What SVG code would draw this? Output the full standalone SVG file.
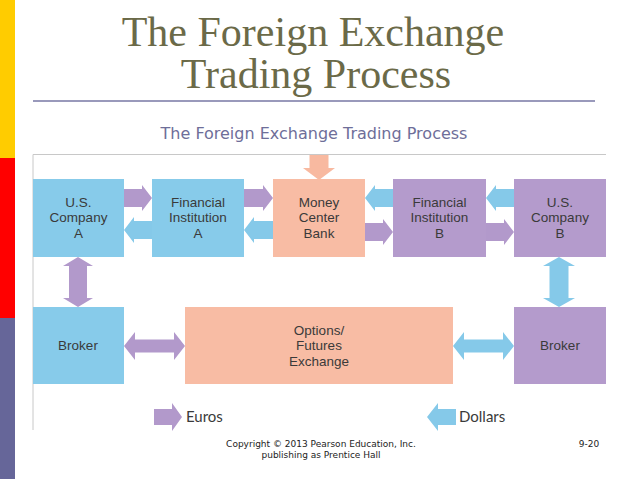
<svg xmlns="http://www.w3.org/2000/svg" width="638" height="479" viewBox="0 0 638 479">
<style>
.title{font-family:"Liberation Serif","DejaVu Serif",serif;font-size:42px;fill:#6b6a48;text-anchor:middle}
.sub{font-family:"DejaVu Sans",Verdana,sans-serif;font-size:16px;fill:#6e6e99;text-anchor:middle}
.lbl{font-family:"Liberation Sans",Arial,sans-serif;font-size:13.5px;fill:#3a3a3a;text-anchor:middle}
.leg{font-family:"Lato","Liberation Sans",sans-serif;font-size:15px;fill:#3a3a3a}
.copy{font-family:"DejaVu Sans",Verdana,sans-serif;font-size:9px;fill:#222}
.blue{fill:#87cbea}
.purple{fill:#b49bcc}
.salmon{fill:#f8bca4}
.aP{fill:#b299cb}
.aB{fill:#85c9e9}
.aS{fill:#f8b9a0}
</style>
<rect x="0" y="0" width="15" height="158" fill="#ffcc00"/>
<rect x="0" y="158" width="15" height="160" fill="#ff0000"/>
<rect x="0" y="318" width="15" height="161" fill="#666699"/>
<text class="title" x="313" y="46">The Foreign Exchange</text>
<text class="title" x="316" y="88">Trading Process</text>
<rect x="33" y="100" width="562" height="2" fill="#9999bb"/>
<text class="sub" x="314" y="139">The Foreign Exchange Trading Process</text>
<path d="M33 430V154.5H606" fill="none" stroke="#c8c8c8" stroke-width="1"/>
<g id="connectors">
<polygon class="aS" points="309.5,155 328.5,155 328.5,168 335,168 319,180 303,168 309.5,168"/>
<polygon class="aP" points="124,189 142,189 142,185 152,198 142,211 142,207 124,207"/>
<polygon class="aB" points="152,221 134,221 134,217 124,230 134,243 134,239 152,239"/>
<polygon class="aP" points="244,189 263,189 263,185 273,198 263,211 263,207 244,207"/>
<polygon class="aB" points="273,221 254,221 254,217 244,230 254,243 254,239 273,239"/>
<polygon class="aB" points="393,189 375,189 375,185 365,198 375,211 375,207 393,207"/>
<polygon class="aP" points="365,223 383,223 383,219 393,232 383,245 383,241 365,241"/>
<polygon class="aB" points="514,189 496,189 496,185 486,198 496,211 496,207 514,207"/>
<polygon class="aP" points="486,223 504,223 504,219 514,232 504,245 504,241 486,241"/>
<polygon class="aP" points="78,257 93,266 87,266 87,298 93,298 78,307 63,298 69,298 69,266 63,266"/>
<polygon class="aB" points="559,257 575,266 568.5,266 568.5,298 575,298 559,307 543,298 549.5,298 549.5,266 543,266"/>
<polygon class="aP" points="124,346 135,332 135,339.5 174,339.5 174,332 185,346 174,360 174,352.5 135,352.5 135,360"/>
<polygon class="aB" points="453,346 464,332 464,339.5 503,339.5 503,332 514,346 503,360 503,352.5 464,352.5 464,360"/>
<polygon class="aP" points="154,409 172,409 172,403 182,417 172,431 172,425 154,425"/>
<polygon class="aB" points="456,409 438,409 438,403 427,417 438,431 438,425 456,425"/>
</g>
<g id="usA"><rect class="blue" x="33" y="179" width="91" height="78"/>
<text class="lbl" x="78.5" y="206.5">U.S.</text><text class="lbl" x="78.5" y="222">Company</text><text class="lbl" x="78.5" y="237.5">A</text></g>
<g id="fiA"><rect class="blue" x="152" y="179" width="92" height="78"/>
<text class="lbl" x="198" y="206.5">Financial</text><text class="lbl" x="198" y="222">Institution</text><text class="lbl" x="198" y="237.5">A</text></g>
<g id="mcb"><rect class="salmon" x="273" y="179" width="92" height="78"/>
<text class="lbl" x="319" y="206.5">Money</text><text class="lbl" x="319" y="222">Center</text><text class="lbl" x="319" y="237.5">Bank</text></g>
<g id="fiB"><rect class="purple" x="393" y="179" width="93" height="78"/>
<text class="lbl" x="439.5" y="206.5">Financial</text><text class="lbl" x="439.5" y="222">Institution</text><text class="lbl" x="439.5" y="237.5">B</text></g>
<g id="usB"><rect class="purple" x="514" y="179" width="92" height="78"/>
<text class="lbl" x="560" y="206.5">U.S.</text><text class="lbl" x="560" y="222">Company</text><text class="lbl" x="560" y="237.5">B</text></g>
<g id="brokerA"><rect class="blue" x="33" y="307" width="91" height="77"/>
<text class="lbl" x="78" y="350">Broker</text></g>
<g id="exchange"><rect class="salmon" x="185" y="307" width="268" height="77"/>
<text class="lbl" x="319" y="334.5">Options/</text><text class="lbl" x="319" y="350">Futures</text><text class="lbl" x="319" y="365.5">Exchange</text></g>
<g id="brokerB"><rect class="purple" x="514" y="307" width="92" height="77"/>
<text class="lbl" x="560" y="350">Broker</text></g>
<text class="leg" x="186" y="422">Euros</text>
<text class="leg" x="459" y="422">Dollars</text>
<text class="copy" x="321" y="447" text-anchor="middle">Copyright © 2013 Pearson Education, Inc.</text>
<text class="copy" x="321" y="458" text-anchor="middle">publishing as Prentice Hall</text>
<text class="copy" x="589" y="447" text-anchor="middle">9-20</text>
</svg>
